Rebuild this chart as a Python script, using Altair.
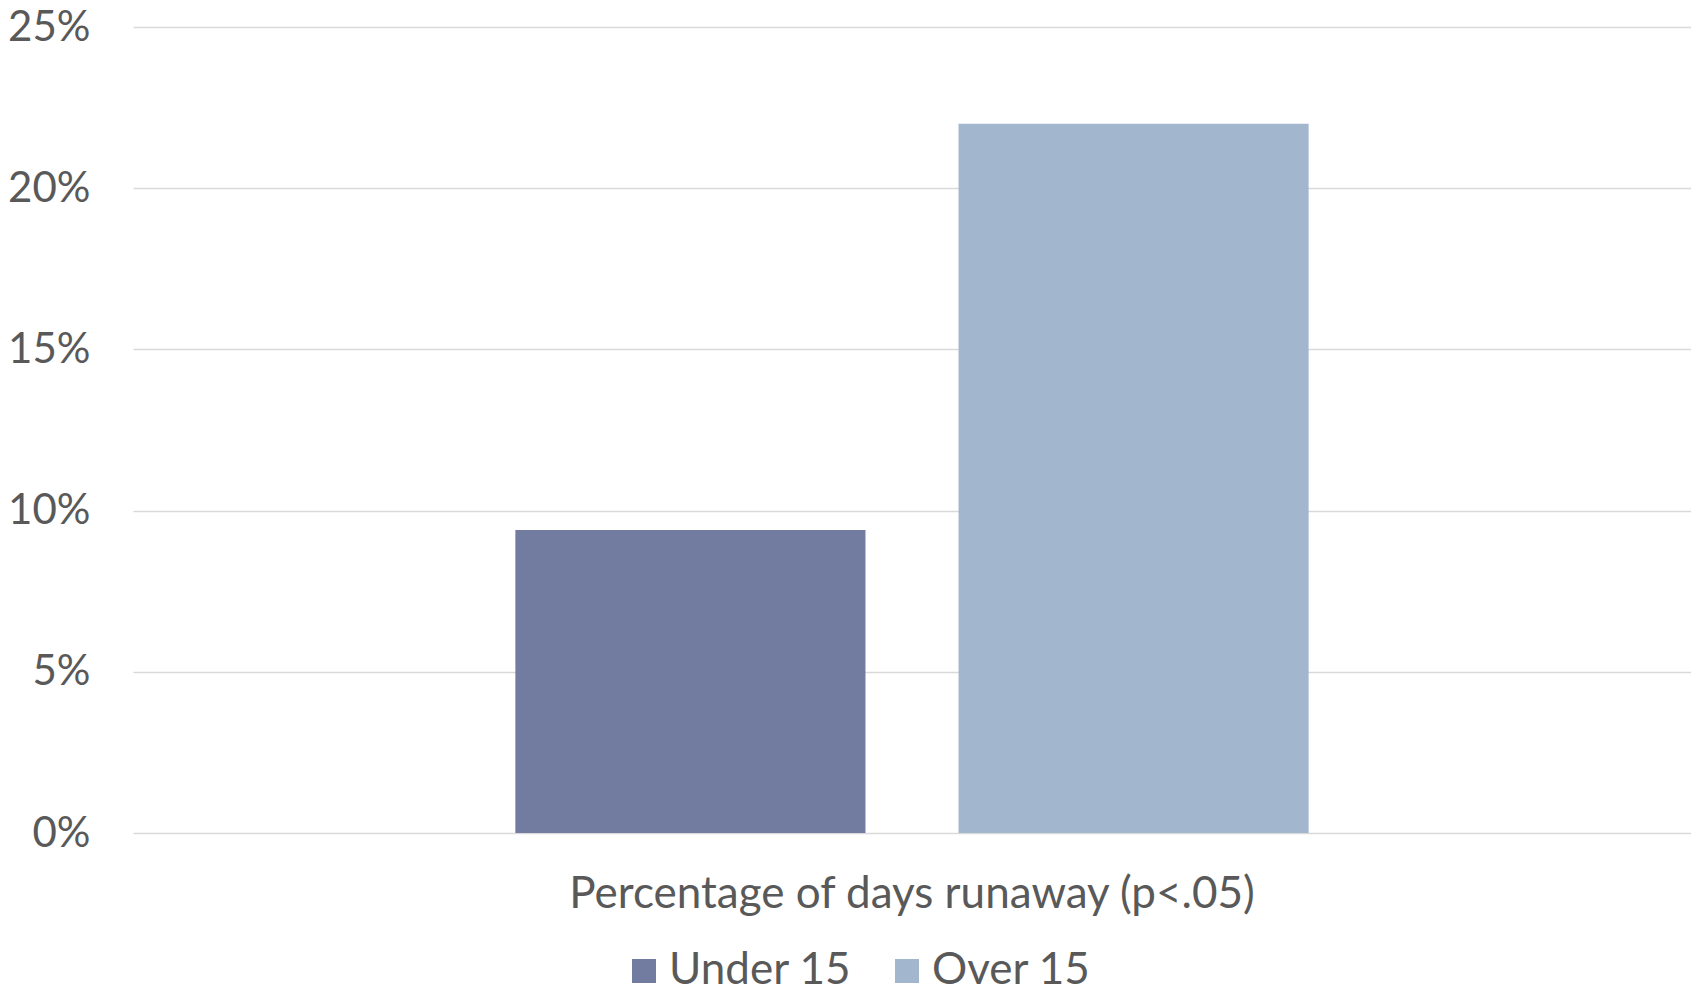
import altair as alt
import pandas as pd

categories = ["Percentage of days runaway (p<.05)"]
groups = ["Under 15", "Over 15"]
values = [0.094, 0.22]
colors = ["#727BA0", "#A2B7CE"]

df = pd.DataFrame({
    "category": [categories[0]] * len(groups),
    "group": groups,
    "value": values,
})

FONT = "Lato"
TEXT = "#595959"

chart = alt.Chart(df).mark_bar().encode(
    x=alt.X("category:N", title=None,
            scale=alt.Scale(paddingInner=0, paddingOuter=0.482),
            axis=alt.Axis(labelAngle=0, domain=False, ticks=False, labelPadding=39,
                          labelFontSize=44, labelColor=TEXT, labelFont=FONT,
                          labelLimit=1000)),
    xOffset=alt.XOffset("group:N", sort=groups,
                        scale=alt.Scale(paddingInner=0.21, paddingOuter=0)),
    y=alt.Y("value:Q", title=None,
            scale=alt.Scale(domain=[0, 0.25]),
            axis=alt.Axis(values=[0, 0.05, 0.10, 0.15, 0.20, 0.25], format=".0%",
                          domain=False, ticks=False, labelPadding=43,
                          labelFontSize=42, labelColor=TEXT, labelFont=FONT,
                          gridColor="#D9D9D9", gridWidth=1.5)),
    color=alt.Color("group:N", sort=groups,
                    scale=alt.Scale(domain=groups, range=colors),
                    legend=alt.Legend(title=None, orient="none", direction="horizontal",
                                      legendX=489, legendY=922,
                                      symbolType="square", symbolSize=576,
                                      symbolStrokeWidth=0, symbolOpacity=1,
                                      labelFontSize=44, labelColor=TEXT, labelFont=FONT,
                                      labelLimit=0,
                                      labelOffset=3, columnPadding=33)),
).properties(
    width=1558,
    height=806,
    autosize=alt.AutoSizeParams(type="none"),
    padding={"left": 125, "top": 19, "right": 0, "bottom": 151},
).configure_view(stroke=None).configure_axis(grid=True).configure_axisX(grid=False)

chart.save("out.html", embed_options={"renderer": "svg", "actions": False})
